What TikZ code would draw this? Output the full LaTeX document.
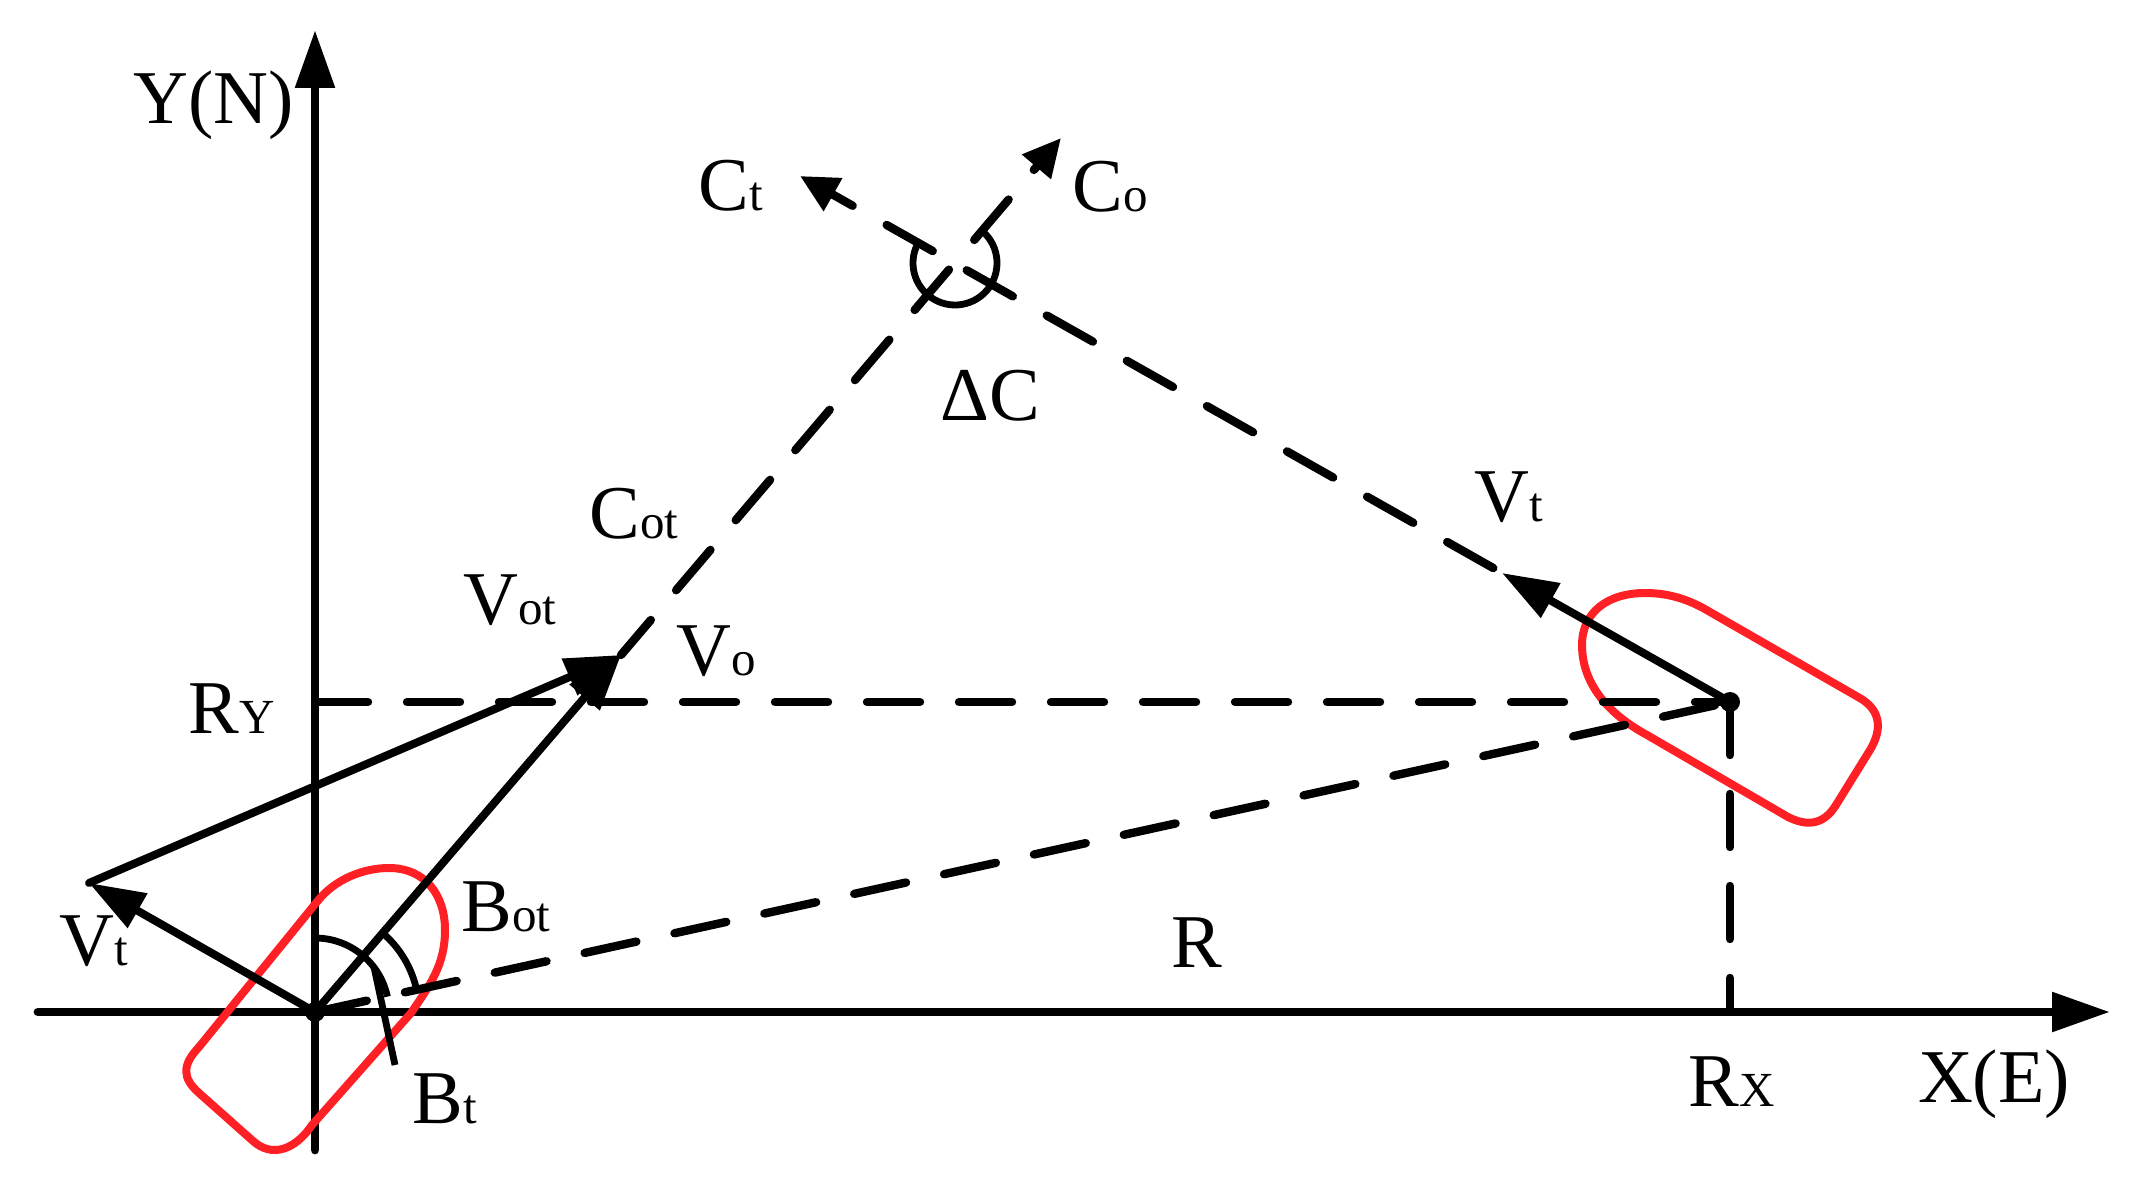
\documentclass[tikz,border=0pt]{standalone}
\usepackage{fontspec}
\setmainfont{Liberation Serif}
\usetikzlibrary{arrows.meta}
\definecolor{shipred}{RGB}{255,32,38}
\newcommand{\sublab}[2]{#1{\fontsize{24.5}{24.5}\selectfont #2}}

\begin{document}
\begin{tikzpicture}[x=0.5pt, y=-0.5pt,
% Label style
		lab/.style={inner sep=0pt
							    , font=\fontsize{38}{38}\selectfont},
% Line styles
		axis/.style={line width=4.4pt
							    , line cap=round
							    , -{Triangle[length=29pt,width=19pt]}},
		vec/.style={line width=4pt
							    , line cap=round
							    , -{Triangle[length=28pt,width=19pt]}},
		dashline/.style={line width=4.2pt
							    , line cap=round
							    , dash pattern=on 26.5pt off 19.5pt},
		course/.style={dashline
							    , -{Triangle[length=19pt,width=18pt]}},
		ship/.style={line width=4pt
							    , draw=shipred
							    , line join=round},
		angmark/.style={line width=3.4pt},
		dot/.style={circle, fill=black, minimum size=10pt, inner sep=0pt}
	]
	\useasboundingbox (0,0) rectangle (2139,1186);
%% Points
	\coordinate (xl) at (38,1012);
	\coordinate (xr) at (2110,1012);
	\coordinate (yb) at (315,1150);
	\coordinate (yt) at (315,30);
	\coordinate (ry) at (315,702);
	\coordinate (rx) at (1730,1012);
	\coordinate (va) at (89,883);
	\coordinate (vc) at (621,655);
	\coordinate (vb) at (1502,573);
	\coordinate (cto) at (1061,138);
	\coordinate (ctt) at (800,176);
	\node [dot] (o) at (315,1012) {};
	\node [dot] (t) at (1730,702) {};
%% Axes and ships
	\draw [axis] (xl) -- (xr);
	\draw [axis] (yb) -- (yt);
	\draw [ship] (199,1047) -- (316,903)
		.. controls (335,878) and (365,868) .. (389,868)
		.. controls (425,868) and (445,895) .. (445,930)
		.. controls (445,965) and (430,985) .. (411,1013)
		-- (312,1125)
		.. controls (295,1150) and (272,1158) .. (253,1141)
		-- (199,1093)
		.. controls (182,1078) and (182,1065) .. (199,1047) -- cycle;
	\draw [ship] (1710,612) -- (1858,697)
		.. controls (1882,710) and (1882,730) .. (1870,750)
		-- (1836,805)
		.. controls (1823,826) and (1806,826) .. (1788,817)
		-- (1647,735)
		.. controls (1610,715) and (1582,685) .. (1582,645)
		.. controls (1582,612) and (1608,593) .. (1645,593)
		.. controls (1670,593) and (1690,600) .. (1710,612) -- cycle;
%% Dashed lines
	\draw [dashline] (ry) -- (t.center);
	\draw [dashline] (t.center) -- (rx);
	\draw [dashline] (o.center) -- (t.center);
	\draw [course, dash phase=3.5pt] (vc) -- (cto);
	\draw [course, dash phase=41pt] (vb) -- (ctt);
%% Vectors
	\draw [vec] (t.center) -- (vb);
	\draw [vec] (o.center) -- (va);
	\draw [vec] (va) -- (vc);
	\draw [vec] (o.center) -- (vc);
%% Angle marks
	\draw [angmark] (955,263) ++(49:21pt) arc [start angle=49, end angle=-210, radius=21pt];
	\draw [angmark] (o.center) ++(90:37pt) arc [start angle=90, end angle=12, radius=37pt];
	\draw [angmark] (o.center) ++(49:52pt) arc [start angle=49, end angle=14, radius=52pt];
	\draw [angmark] (374,967) -- (395,1065);
%% Labels
	\node [lab] (ly) at (214,105) {Y(N)};
	\node [lab] (lx) at (1994,1084) {X(E)};
	\node [lab] (lct) at (731,186) {\sublab{C}{t}};
	\node [lab] (lco) at (1110,187) {\sublab{C}{o}};
	\node [lab] (ldc) at (990,396) {ΔC};
	\node [lab] (lvtr) at (1509,497) {\sublab{V}{t}};
	\node [lab] (lcot) at (634,514) {\sublab{C}{ot}};
	\node [lab] (lvot) at (510,600) {\sublab{V}{ot}};
	\node [lab] (lvo) at (716,651) {\sublab{V}{o}};
	\node [lab] (lry) at (232,709) {\sublab{R}{Y}};
	\node [lab] (lbot) at (506,907) {\sublab{B}{ot}};
	\node [lab] (lvtl) at (94,941) {\sublab{V}{t}};
	\node [lab] (lbt) at (445,1099) {\sublab{B}{t}};
	\node [lab] (lr) at (1197,943) {R};
	\node [lab] (lrx) at (1732,1082) {\sublab{R}{X}};
\end{tikzpicture}
\end{document}
